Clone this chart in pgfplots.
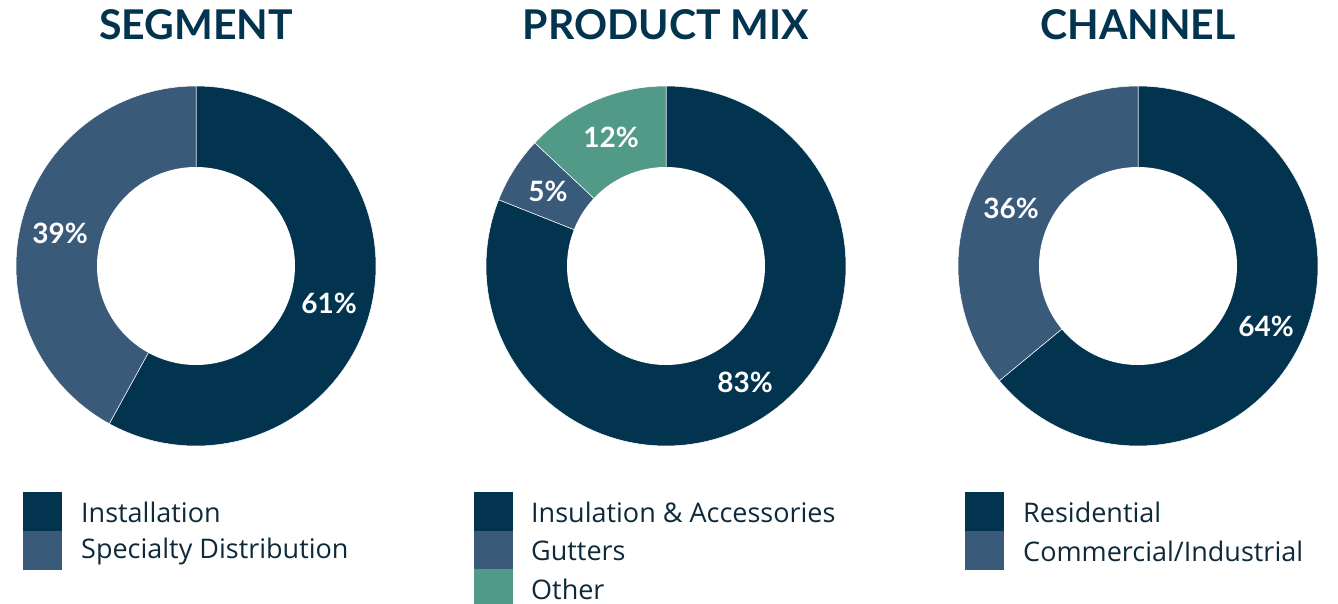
\documentclass[border=0pt]{standalone}
\usepackage{pgfplots}
\pgfplotsset{compat=1.18}
\usepackage{fontspec}
\setmainfont{Lato}
\newfontfamily\lgfont{Open Sans}
\definecolor{navy}{HTML}{02344F}
\definecolor{slate}{HTML}{3A5A7A}
\definecolor{teal}{HTML}{529A88}
\definecolor{txt}{HTML}{0E2A3A}
% data (percent, as drawn)
\def\segA{58}\def\segB{42}
\def\prodA{81}\def\prodB{6}\def\prodC{13}
\def\chA{64}\def\chB{36}
\def\Ro{180}\def\Ri{99}
% wedge: center x, center y, start%, end%, colour
\newcommand{\donutwedge}[5]{%
  \addplot[fill=#5, draw=white, line width=0.5pt, domain={90-3.6*(#4)}:{90-3.6*(#3)}, samples=120, variable=\t]
    ({#1+\Ro*cos(\t)},{#2-\Ro*sin(\t)}) -- (axis cs:#1,#2) -- cycle;}
\newcommand{\donuthole}[2]{%
  \addplot[fill=white, draw=none, domain=0:360, samples=150, variable=\t]
    ({#1+\Ri*cos(\t)},{#2-\Ri*sin(\t)}) -- cycle;}
\begin{document}
\begin{tikzpicture}
\begin{axis}[
  width=1338pt, height=604pt, scale only axis,
  xmin=0, xmax=1338, ymin=0, ymax=604, y dir=reverse,
  hide axis, clip=false,
]
% SEGMENT
\donutwedge{196}{266}{0}{\segA}{navy}
\donutwedge{196}{266}{\segA}{\segA+\segB}{slate}
\donuthole{196}{266}
% PRODUCT MIX
\donutwedge{666}{266}{0}{\prodA}{navy}
\donutwedge{666}{266}{\prodA}{\prodA+\prodB}{slate}
\donutwedge{666}{266}{\prodA+\prodB}{\prodA+\prodB+\prodC}{teal}
\donuthole{666}{266}
% CHANNEL
\donutwedge{1138}{266}{0}{\chA}{navy}
\donutwedge{1138}{266}{\chA}{\chA+\chB}{slate}
\donuthole{1138}{266}
% titles
\tikzset{ttl/.style={font=\fontsize{41}{43}\selectfont\bfseries, text=navy, anchor=base}}
\node[ttl] at (axis cs:196,40) {SEGMENT};
\node[ttl] at (axis cs:666,40) {PRODUCT MIX};
\node[ttl] at (axis cs:1138,40) {CHANNEL};
% labels
\tikzset{pct/.style={font=\fontsize{28}{30}\selectfont\bfseries, text=white}}
\node[pct] at (axis cs:329,303) {61\%};
\node[pct] at (axis cs:60,233) {39\%};
\node[pct] at (axis cs:611,137) {12\%};
\node[pct] at (axis cs:548,191) {5\%};
\node[pct] at (axis cs:745,382) {83\%};
\node[pct] at (axis cs:1011,208) {36\%};
\node[pct] at (axis cs:1266,326) {64\%};
% legends
\tikzset{lg/.style={font=\lgfont\fontsize{27}{29}\selectfont, text=txt, anchor=west, inner sep=0pt}}
\fill[navy] (axis cs:23,492) rectangle (axis cs:62,531);
\fill[slate] (axis cs:23,531) rectangle (axis cs:62,570);
\node[lg] at (axis cs:81,512) {Installation};
\node[lg] at (axis cs:81,551) {Specialty Distribution};
\fill[navy] (axis cs:474,492) rectangle (axis cs:513,531);
\fill[slate] (axis cs:474,531) rectangle (axis cs:513,569);
\fill[teal] (axis cs:474,569) rectangle (axis cs:513,604);
\node[lg] at (axis cs:531,512) {Insulation \& Accessories};
\node[lg] at (axis cs:531,551) {Gutters};
\node[lg] at (axis cs:531,589) {Other};
\fill[navy] (axis cs:965,492) rectangle (axis cs:1004,531);
\fill[slate] (axis cs:965,531) rectangle (axis cs:1004,570);
\node[lg] at (axis cs:1023,512) {Residential};
\node[lg] at (axis cs:1023,551) {Commercial/Industrial};
\end{axis}
\pgfresetboundingbox
\path (current axis.south west) rectangle (current axis.north east);
\end{tikzpicture}
\end{document}
